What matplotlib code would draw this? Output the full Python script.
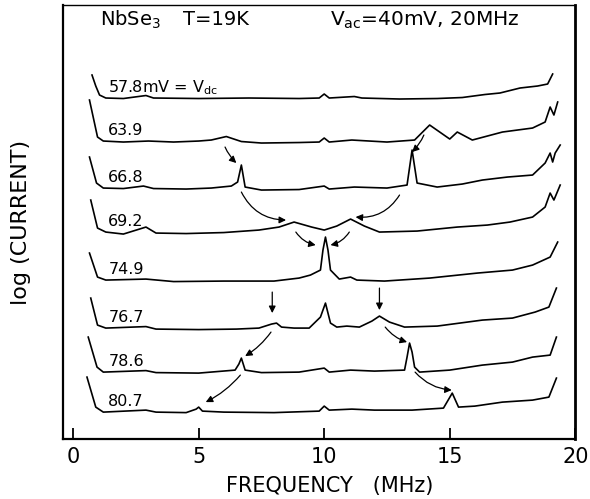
import matplotlib.pyplot as plt

plt.rcParams['font.family'] = ['DejaVu Sans']
plt.rcParams['mathtext.default'] = 'regular'

# bias voltages (mV) and trace baselines (arbitrary log-current units)
labels = ["57.8mV = V$_{dc}$", "63.9", "66.8", "69.2", "74.9", "76.7", "78.6", "80.7"]
offsets = [34.1, 29.8, 25.1, 20.7, 15.9, 11.1, 6.7, 2.7]

# traces: frequency (MHz) and level above baseline
f1 = [0.75, 0.9, 1.05, 1.3, 2.0, 2.9, 3.2, 5.0, 7.0, 9.0, 9.8, 10.0, 10.2, 11.2, 11.5, 13.0, 14.5, 15.5, 16.4, 17.0, 17.8, 18.5, 18.9, 19.1]
v1 = [2.3, 1.2, 0.3, 0.0, -0.05, 0.25, 0.0, -0.05, 0.0, -0.05, 0.0, 0.4, 0.0, 0.15, 0.0, -0.1, -0.05, 0.05, 0.35, 0.5, 1.0, 1.2, 1.4, 2.4]

f2 = [0.65, 0.97, 1.2, 2.0, 3.0, 4.0, 5.0, 5.5, 6.1, 6.7, 7.5, 9.0, 9.8, 10.0, 10.2, 11.1, 12.5, 13.6, 14.2, 15.0, 15.3, 15.9, 17.1, 18.3, 18.8, 19.0, 19.15, 19.3]
v2 = [4.1, 0.4, 0.0, -0.1, 0.0, -0.1, 0.0, 0.1, 0.45, -0.05, -0.2, -0.15, -0.1, 0.3, -0.1, 0.1, -0.1, 0.1, 1.6, 0.2, 0.9, 0.1, 0.9, 1.3, 1.9, 3.4, 2.6, 3.9]

f3 = [0.65, 0.93, 1.2, 2.0, 2.8, 3.2, 4.5, 5.5, 6.3, 6.55, 6.7, 6.85, 7.5, 9.0, 10.0, 10.2, 11.2, 12.5, 13.3, 13.5, 13.7, 14.5, 15.5, 16.3, 17.3, 18.3, 18.8, 19.0, 19.1, 19.2, 19.4]
v3 = [3.1, 0.5, 0.0, -0.05, 0.2, -0.05, -0.1, 0.0, 0.2, 0.6, 2.3, 0.1, -0.2, -0.15, 0.2, -0.1, 0.1, 0.0, 0.3, 3.8, 0.5, 0.1, 0.4, 0.8, 1.1, 1.3, 2.5, 3.5, 2.6, 3.5, 4.3]

f4 = [0.7, 0.97, 1.3, 2.0, 2.9, 3.3, 4.5, 6.0, 7.4, 8.2, 8.8, 9.5, 10.0, 10.5, 11.05, 11.6, 12.2, 13.7, 15.3, 16.5, 17.4, 18.3, 18.8, 19.0, 19.15, 19.4]
v4 = [3.2, 0.4, 0.0, -0.2, 0.5, -0.1, -0.15, -0.05, 0.2, 0.5, 1.0, 0.5, 0.2, 0.6, 1.3, 0.6, 0.0, 0.1, 0.5, 0.7, 1.0, 1.5, 2.5, 3.9, 3.2, 4.7]

f5 = [0.65, 0.97, 1.3, 2.9, 4.0, 6.0, 8.0, 9.0, 9.45, 9.85, 9.95, 10.05, 10.15, 10.25, 10.6, 11.05, 11.3, 12.4, 14.2, 16.1, 17.5, 18.3, 19.0, 19.3]
v5 = [2.7, 0.3, 0.0, 0.1, -0.15, -0.1, -0.1, 0.2, 0.5, 1.0, 3.0, 4.3, 3.0, 1.0, 0.1, 0.3, 0.0, -0.1, 0.2, 0.7, 1.0, 1.5, 2.3, 3.8]

f6 = [0.7, 0.97, 1.3, 2.9, 3.3, 5.0, 6.5, 7.4, 7.9, 8.1, 8.3, 8.8, 9.4, 9.85, 10.05, 10.25, 10.5, 10.9, 11.4, 11.9, 12.2, 12.6, 13.2, 14.5, 16.3, 17.5, 18.4, 18.95, 19.25]
v6 = [3.0, 0.3, 0.0, 0.15, -0.1, -0.15, -0.1, 0.0, 0.4, 0.5, 0.1, 0.0, 0.0, 1.1, 2.5, 0.5, 0.1, 0.2, 0.1, 0.7, 1.2, 0.6, 0.1, 0.2, 0.8, 1.0, 1.6, 2.1, 4.0]

f7 = [0.6, 0.95, 1.2, 2.9, 3.3, 5.0, 6.45, 6.6, 6.7, 6.85, 7.5, 9.0, 10.0, 10.2, 11.05, 12.0, 13.2, 13.3, 13.4, 13.5, 13.6, 13.8, 15.0, 16.3, 17.5, 18.3, 19.0, 19.25]
v7 = [3.5, 0.5, 0.0, 0.15, -0.05, -0.1, 0.2, 0.8, 1.4, 0.2, -0.05, 0.0, 0.4, 0.0, 0.2, 0.1, 0.2, 1.5, 2.9, 2.0, 0.5, 0.0, 0.2, 0.7, 1.0, 1.5, 1.7, 3.5]

f8 = [0.55, 0.9, 1.2, 2.9, 3.3, 4.5, 4.9, 5.0, 5.15, 6.0, 8.0, 9.8, 10.0, 10.2, 11.1, 12.0, 13.5, 14.75, 15.1, 15.35, 16.0, 17.1, 18.3, 18.95, 19.25]
v8 = [3.5, 0.5, 0.0, 0.2, 0.0, -0.05, 0.3, 0.5, 0.1, 0.0, -0.05, 0.1, 0.6, 0.2, 0.3, 0.2, 0.2, 0.4, 1.9, 0.5, 0.6, 1.0, 1.2, 1.5, 3.4]

freqs = [f1, f2, f3, f4, f5, f6, f7, f8]
levels = [v1, v2, v3, v4, v5, v6, v7, v8]

# arrows linking the moving peaks: (start, end, curvature)
arrows = [
    ((6.05, 29.2), (6.5, 27.6), 0.1),
    ((13.97, 30.4), (13.5, 28.7), -0.1),
    ((6.7, 24.7), (8.48, 21.9), 0.3),
    ((13.0, 24.4), (11.25, 22.2), -0.3),
    ((8.87, 20.7), (9.66, 19.4), 0.2),
    ((11.0, 20.7), (10.25, 19.4), -0.2),
    ((7.93, 14.7), (7.93, 12.6), 0.0),
    ((12.2, 15.1), (12.2, 12.9), 0.0),
    ((12.43, 11.2), (13.3, 9.7), 0.15),
    ((7.88, 10.7), (6.85, 8.3), -0.1),
    ((6.66, 6.4), (5.28, 3.7), -0.1),
    ((13.62, 6.7), (15.08, 4.9), 0.2),
]

fig = plt.figure(figsize=(5.9, 4.99), dpi=100)
ax = fig.add_axes([0.107, 0.12, 0.868, 0.87])

for f, v, off, lab in zip(freqs, levels, offsets, labels):
    ax.plot(f, [off + a for a in v], color='black', lw=1.2)
    ax.text(1.4, off + 1.05, lab, fontsize=11.5, va='center', ha='left')

for (x0, y0), (x1, y1), rad in arrows:
    ax.annotate('', xy=(x1, y1), xytext=(x0, y0),
                arrowprops=dict(arrowstyle='-|>', color='black', lw=0.9,
                                mutation_scale=10, shrinkA=0, shrinkB=0,
                                connectionstyle='arc3,rad=%s' % rad))

ax.text(1.05, 41.9, "NbSe$_3$", fontsize=14, va='center')
ax.text(4.38, 41.9, "T=19K", fontsize=14, va='center', ha='left')
ax.text(14.0, 41.9, "V$_{ac}$=40mV, 20MHz", fontsize=14.5, va='center', ha='center')

ax.set_xlim(-0.4, 20)
ax.set_ylim(0, 43.4)
ax.set_xticks([0, 5, 10, 15, 20])
ax.set_yticks([])
ax.tick_params(axis='x', direction='in', length=8, width=1.3, labelsize=15, pad=6)
ax.set_xlabel("FREQUENCY   (MHz)", fontsize=15)
ax.xaxis.set_label_coords(0.52, -0.085)
ax.set_ylabel("log (CURRENT)", fontsize=16)
ax.yaxis.set_label_coords(-0.062, 0.5)
for s in ['left', 'bottom']:
    ax.spines[s].set_linewidth(1.6)
ax.spines['right'].set_linewidth(2.0)
ax.spines['top'].set_linewidth(1.0)

fig.savefig("out.png", dpi=100)
